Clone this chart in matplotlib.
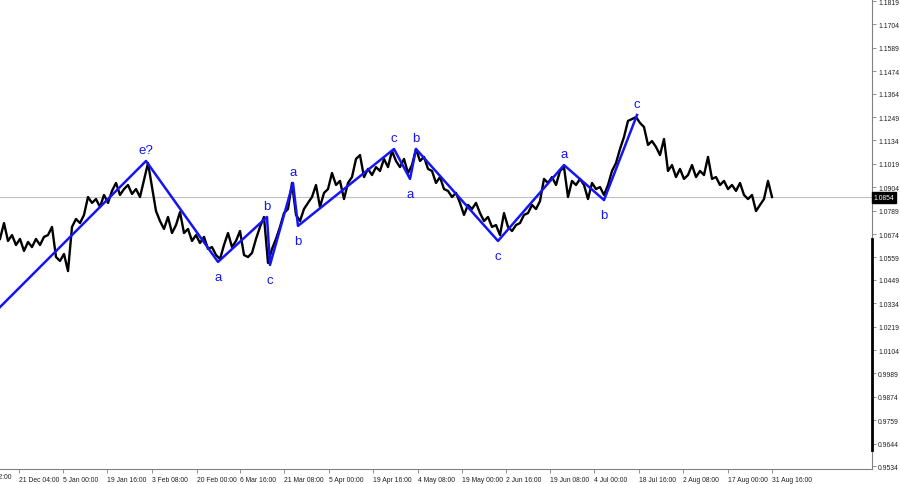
import numpy as np
import matplotlib.pyplot as plt

# EURUSD H4 closes (one reading every 4 px)
prices = [
    1.0650, 1.0728, 1.0640, 1.0669, 1.0620, 1.0650, 1.0591, 1.0635, 1.0610, 1.0650,
    1.0620, 1.0660, 1.0669, 1.0709, 1.0561, 1.0542, 1.0576, 1.0492, 1.0709, 1.0748,
    1.0728, 1.0768, 1.0856, 1.0827, 1.0846, 1.0807, 1.0866, 1.0827, 1.0886, 1.0925,
    1.0866, 1.0895, 1.0915, 1.0871, 1.0895, 1.0856, 1.0940, 1.1023, 1.0905, 1.0787,
    1.0738, 1.0699, 1.0758, 1.0679, 1.0718, 1.0782, 1.0679, 1.0699, 1.0640, 1.0669,
    1.0630, 1.0660, 1.0601, 1.0610, 1.0571, 1.0551, 1.0620, 1.0679, 1.0610, 1.0640,
    1.0689, 1.0571, 1.0561, 1.0581, 1.0650, 1.0709, 1.0758, 1.0532, 1.0601, 1.0650,
    1.0709, 1.0777, 1.0797, 1.0925, 1.0768, 1.0738, 1.0797, 1.0827, 1.0856, 1.0915,
    1.0807, 1.0876, 1.0895, 1.0974, 1.0915, 1.0935, 1.0846, 1.0925, 1.0954, 1.1043,
    1.1062, 1.0954, 1.0994, 1.0964, 1.1003, 1.0984, 1.1043, 1.1003, 1.1082, 1.1033,
    1.1003, 1.1043, 1.0974, 1.1013, 1.1092, 1.1033, 1.1053, 1.0994, 1.0984, 1.0925,
    1.0954, 1.0895, 1.0886, 1.0856, 1.0876, 1.0827, 1.0768, 1.0817, 1.0797, 1.0827,
    1.0777, 1.0738, 1.0758, 1.0709, 1.0718, 1.0669, 1.0777, 1.0709, 1.0689, 1.0718,
    1.0728, 1.0768, 1.0777, 1.0817, 1.0797, 1.0836, 1.0945, 1.0925, 1.0954, 1.0915,
    1.0984, 1.1003, 1.0856, 1.0935, 1.0915, 1.0945, 1.0915, 1.0846, 1.0925, 1.0895,
    1.0905, 1.0866, 1.0915, 1.0984, 1.1023, 1.1092, 1.1151, 1.1230, 1.1239, 1.1249,
    1.1220, 1.1200, 1.1112, 1.1131, 1.1102, 1.1062, 1.1141, 1.0984, 1.1013, 1.0954,
    1.0994, 1.0945, 1.0964, 1.1013, 1.0954, 1.0984, 1.0964, 1.1053, 1.0945, 1.0954,
    1.0915, 1.0935, 1.0895, 1.0915, 1.0886, 1.0925, 1.0866, 1.0846, 1.0866, 1.0787,
    1.0817, 1.0846, 1.0935, 1.0856,
]
last_price = 1.0854

# wave markup (bar index, price, label)
wave_idx = [0, 36.5, 54.5, 66.75, 67.5, 73.25, 74.5, 98.5, 102.5, 104, 124.5, 141, 151, 159.25]
wave_price = [1.0315, 1.1033, 1.0537, 1.0758, 1.0522, 1.0925, 1.0714, 1.1092, 1.0945,
              1.1092, 1.0640, 1.1013, 1.0841, 1.1259]
wave_text = ['', 'e?', 'a', 'b', 'c', 'a', 'b', 'c', 'a', 'b', 'c', 'a', 'b', 'c']

date_pos = [4.75, 15.75, 26.75, 38, 49.25, 60, 71, 82.25, 93.25, 104.5, 115.5,
            126.5, 137.5, 148.5, 159.75, 170.75, 182, 193]
date_lbl = ['21 Dec 04:00', '5 Jan 00:00', '19 Jan 16:00', '3 Feb 08:00', '20 Feb 00:00',
            '6 Mar 16:00', '21 Mar 08:00', '5 Apr 00:00', '19 Apr 16:00', '4 May 08:00',
            '19 May 00:00', '2 Jun 16:00', '19 Jun 08:00', '4 Jul 00:00', '18 Jul 16:00',
            '2 Aug 08:00', '17 Aug 00:00', '31 Aug 16:00']

price_ticks = [1.1819, 1.1704, 1.1589, 1.1474, 1.1364, 1.1249, 1.1134, 1.1019, 1.0904,
               1.0789, 1.0674, 1.0559, 1.0449, 1.0334, 1.0219, 1.0104, 0.9989, 0.9874,
               0.9759, 0.9644, 0.9534]

plt.rcParams['font.family'] = ['Liberation Sans', 'DejaVu Sans']

fig = plt.figure(figsize=(9, 4.85), dpi=100)
ax = fig.add_axes([0, 15 / 485, 872 / 900, 470 / 485])
ax.set_xlim(0, 218)
ax.set_ylim(0.95194, 1.1829)

ax.axhline(last_price, color='#c0c0c0', lw=0.8, zorder=1)
ax.plot(np.arange(len(prices)), prices, color='black', lw=1.7, zorder=2)
ax.plot(wave_idx, wave_price, color='#1414f5', lw=1.8, zorder=3)

for i, t in enumerate(wave_text):
    if not t:
        continue
    prev_p = wave_price[i - 1]
    nxt_p = wave_price[i + 1] if i + 1 < len(wave_price) else prev_p
    top = wave_price[i] > prev_p and wave_price[i] >= nxt_p
    ax.annotate(t, (wave_idx[i], wave_price[i]), xytext=(0, 11 if top else -15),
                textcoords='offset pixels', ha='center', va='center',
                color='#1414f5', fontsize=9.5, zorder=4)

# axes styling, MT4 look
for s in ['top', 'left']:
    ax.spines[s].set_visible(False)
for s in ['right', 'bottom']:
    ax.spines[s].set_color('#808080')
    ax.spines[s].set_linewidth(0.8)
ax.plot([1, 1], [0.04, 0.49], transform=ax.transAxes, color='black', lw=2,
        clip_on=False, zorder=5)

ax.yaxis.tick_right()
ax.set_yticks(price_ticks)
ax.set_yticklabels([f'{v:.4f}' for v in price_ticks])
ax.tick_params(axis='y', length=3, width=0.6, color='#808080', pad=1.5,
               labelsize=4.9, labelcolor='#202020')

ax.set_xticks(date_pos)
ax.set_xticklabels(date_lbl, ha='left')
ax.tick_params(axis='x', length=3, width=0.6, color='#808080', pad=2,
               labelsize=4.9, labelcolor='#202020')
# label of the previous tick, cut by the left edge as in the terminal
ax.text(-6.3, -0.008, '6 Dec 12:00', transform=ax.get_xaxis_transform(), ha='left',
        va='top', fontsize=4.9, color='#202020', clip_on=False)

ax.text(1.002, last_price, f'{last_price:.4f}', transform=ax.get_yaxis_transform(),
        ha='left', va='center', fontsize=4.9, color='white', clip_on=False, zorder=6,
        bbox=dict(boxstyle='square,pad=0.25', fc='black', ec='black'))

fig.savefig('out.png', dpi=100)
